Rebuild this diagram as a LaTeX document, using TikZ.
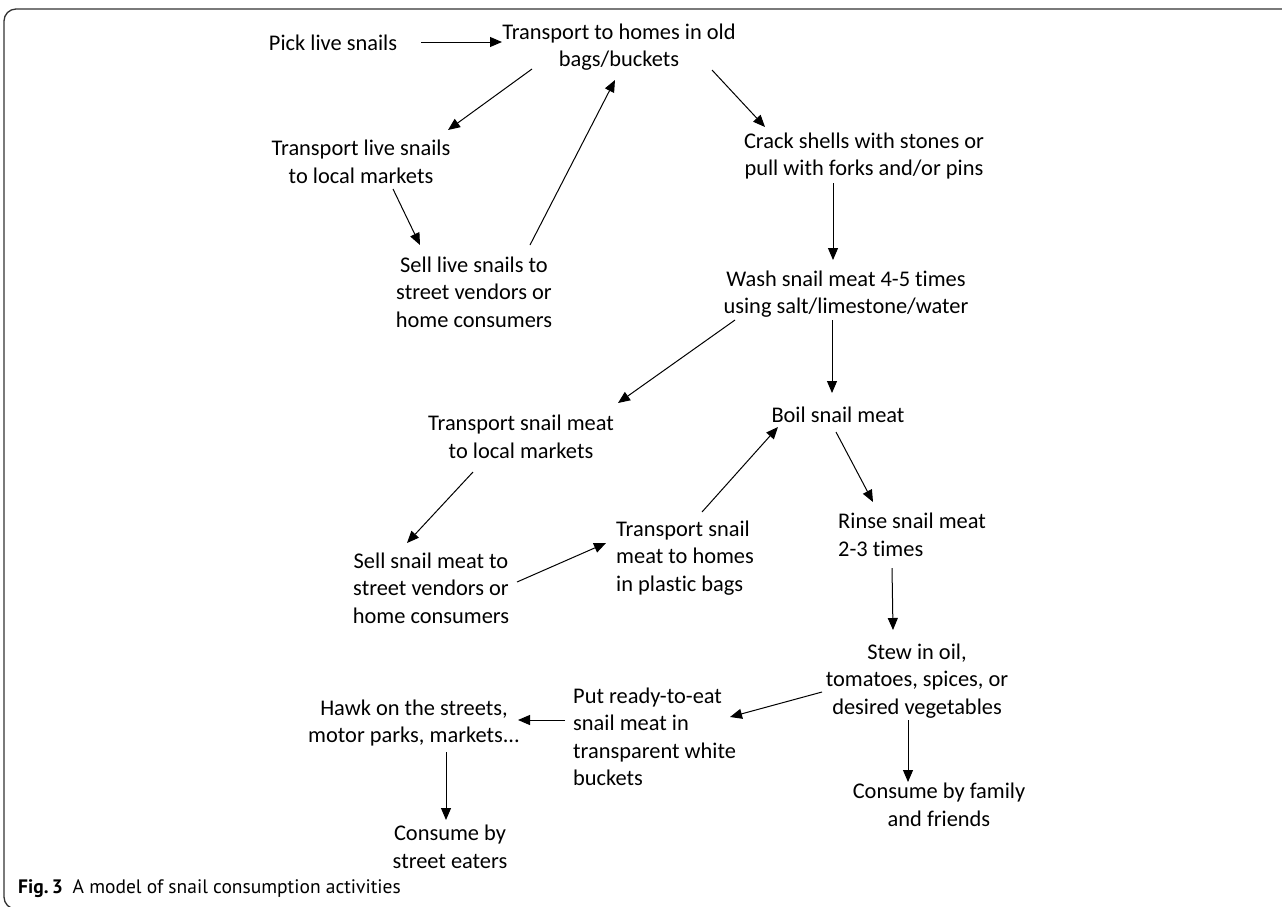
\documentclass[tikz,border=0pt]{standalone}
\usepackage{fontspec}
\setmainfont{Carlito}[Ligatures=NoCommon]
\newfontfamily\capfont{PT Sans}
\usetikzlibrary{arrows.meta,calc}
\begin{document}
\begin{tikzpicture}[x=1pt,y=-1pt,
  lbl/.style={inner sep=0pt, align=center, font=\fontsize{22.4}{27.5}\selectfont},
  lbll/.style={lbl, align=left, anchor=west},
  flow/.style={-{Triangle[length=12pt,width=10pt]}, line width=1pt}]
\useasboundingbox (0,0) rectangle (1282,906);
\clip (0,0) rectangle (1282,906);
% frame open to the right and bottom
\draw[line width=1.3pt, black!80, rounded corners=12pt] (1290,9) -- (4,9) -- (4,909) -- (60,909);

% steps
\node[lbl] (pick)  at (333,43)  {Pick live snails};
\node[lbl] (home)  at (619,47)  {Transport to homes in old\\bags/buckets};
\node[lbl] (tls)   at (361,162) {Transport live snails\\to local markets};
\node[lbl] (sls)   at (474,292) {Sell live snails to\\street vendors or\\home consumers};
\node[lbl] (crack) at (864,156) {Crack shells with stones or\\pull with forks and/or pins};
\node[lbl] (wash)  at (846,294) {Wash snail meat 4-5 times\\using salt/limestone/water};
\node[lbl] (boil)  at (838,415) {Boil snail meat};
\node[lbl] (tsm)   at (521,437) {Transport snail meat\\to local markets};
\node[lbl] (ssm)   at (431,588) {Sell snail meat to\\street vendors or\\home consumers};
\node[lbll] (tsh)  at (616,558) {Transport snail\\meat to homes\\in plastic bags};
\node[lbll] (rinse) at (838,535) {Rinse snail meat\\2-3 times};
\node[lbl] (stew)  at (917,681) {Stew in oil,\\tomatoes, spices, or\\desired vegetables};
\node[lbll] (put)  at (573,737) {Put ready-to-eat\\snail meat in\\transparent white\\buckets};
\node[lbl] (hawk)  at (414,723) {Hawk on the streets,\\motor parks, markets...};
\node[lbl] (cfam)  at (939,805) {Consume by family\\and friends};
\node[lbl] (cst)   at (450,847) {Consume by\\street eaters};

% caption
\node[inner sep=0pt, anchor=west, font=\capfont\fontsize{19.5}{22}\selectfont] (cap) at (18,889)
  {\textbf{Fig.\,3}\hspace{0.5em}A model of snail consumption activities};

% flow arrows
\draw[flow] ($(pick)+(88,-1)$)   -- ($(home)+(-117,-5)$);
\draw[flow] ($(home)+(-87,22)$)  -- ($(tls)+(87,-32)$);
\draw[flow] ($(home)+(93,23)$)   -- ($(crack)+(-99,-29)$);
\draw[flow] ($(tls)+(32,27)$)    -- ($(sls)+(-54,-47)$);
\draw[flow] ($(sls)+(56,-47)$)   -- ($(home)+(-4,33)$);
\draw[flow] ($(crack)+(-31,27)$) -- ($(wash)+(-13,-34)$);
\draw[flow] ($(wash)+(-111,26)$) -- ($(tsm)+(97,-34)$);
\draw[flow] ($(wash)+(-14,26)$)  -- ($(boil)+(-6,-22)$);
\draw[flow] ($(tsm)+(-48,35)$)   -- ($(ssm)+(-24,-45)$);
\draw[flow] ($(ssm)+(86,-6)$)    -- ($(tsh.west)+(-10,-15)$);
\draw[flow] ($(tsh.west)+(86,-46)$) -- ($(boil)+(-60,12)$);
\draw[flow] ($(boil)+(-2,17)$)   -- ($(rinse.west)+(35,-33)$);
\draw[flow] ($(rinse.west)+(54,33)$) -- ($(stew)+(-24,-51)$);
\draw[flow] ($(stew)+(-95,11)$)  -- ($(put.west)+(157,-20)$);
\draw[flow] ($(put.west)+(-8,-17)$) -- ($(hawk)+(104,-3)$);
\draw[flow] ($(hawk)+(32,29)$)   -- ($(cst)+(-4,-27)$);
\draw[flow] ($(stew)+(-9,39)$)   -- ($(cfam)+(-31,-23)$);
\end{tikzpicture}
\end{document}
